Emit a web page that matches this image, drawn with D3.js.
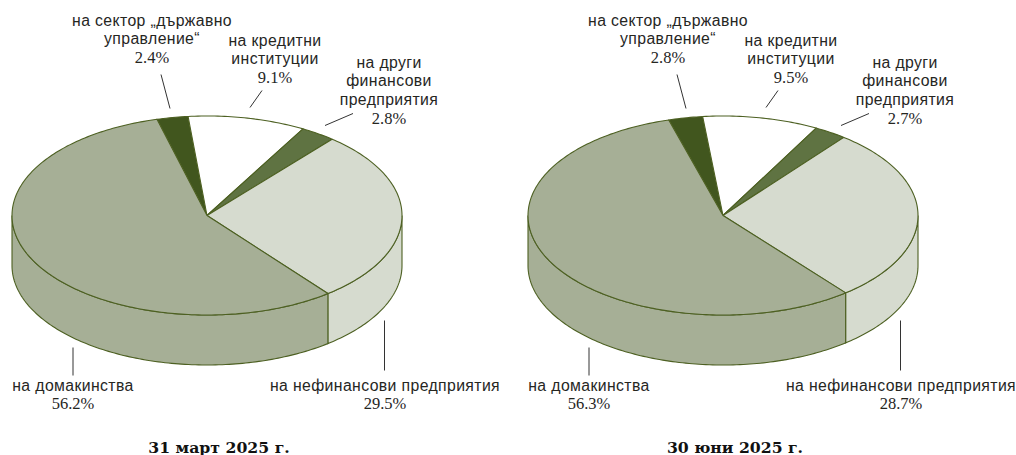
<!DOCTYPE html>
<html>
<head>
<meta charset="utf-8">
<script src="https://cdn.jsdelivr.net/npm/d3@7"></script>
<style>
html, body { margin: 0; padding: 0; background: #fff; }
svg { display: block; }
.lbl { font-family: "Liberation Sans", sans-serif; font-size: 15.8px; letter-spacing: 0.38px; fill: #26261f; text-anchor: middle; }
.pct { font-family: "Liberation Serif", serif; font-size: 16.5px; fill: #26261f; text-anchor: middle; }
.ttl { font-family: "DejaVu Serif", serif; font-weight: bold; font-size: 15.7px; fill: #111; text-anchor: middle; }
</style>
</head>
<body>
<svg id="chart" width="1016" height="455"></svg>
<script>
var categories = ["на сектор „държавно управление“", "на кредитни институции", "на други финансови предприятия", "на нефинансови предприятия", "на домакинства"];
var march = [2.4, 9.1, 2.8, 29.5, 56.2];
var june = [2.8, 9.5, 2.7, 28.7, 56.3];
var titles = ["31 март 2025 г.", "30 юни 2025 г."];

var colors = ["#41561e", "#ffffff", "#5f7342", "#d6dbcf", "#a6af96"];
var strokeColor = "#4d6022";

// label lines and leader lines, relative to the pie centre
var labelLayout = [
	{lines: ["на сектор „държавно", "управление“"], x: -55, y: -189.5, pctY: -152.5, leader: [[-46, -141], [-37, -107]]},
	{lines: ["на кредитни", "институции"], x: 68, y: -169.5, pctY: -133, leader: [[55, -125], [43, -108]]},
	{lines: ["на други", "финансови", "предприятия"], x: 182, y: -147.5, pctY: -92, leader: [[146, -102], [118, -90]]},
	{lines: ["на нефинансови предприятия"], x: 178, y: 175.5, pctY: 193.5, leader: [[177.5, 105], [177.5, 155]]},
	{lines: ["на домакинства"], x: -134, y: 175.5, pctY: 193.5, leader: [[-134, 132], [-134, 160]]}
];

var rx = 195, ry = 99.5, depth = 50;
var cy = 215.5;
var charts = [
	{values: march, title: titles[0], cx: 207, start: -13.8, squeeze: 2.3},
	{values: june, title: titles[1], cx: 723, start: -16, squeeze: 0.3}
];

var svg = d3.select("#chart");
var rad = Math.PI / 180;

var onEllipse = function(a) {
	return [rx * Math.sin(a), ry * -Math.cos(a)];
};
var sampleAngles = function(a0, a1) {
	var n = Math.max(2, Math.ceil(Math.abs(a1 - a0) / (1 * rad)));
	return d3.range(n + 1).map(function(i) { return a0 + (a1 - a0) * i / n; });
};
var line = d3.line();

var drawPie = function(chart) {
	var g = svg.append("g").attr("transform", "translate(" + chart.cx + "," + cy + ")");
	// the tilted pie squeezes the sides a little, so angles get a small correction
	var warp = function(a) {
		return a + chart.squeeze * rad * Math.sin(2 * a);
	};
	var pie = d3.pie().sort(null)
		.startAngle(chart.start * rad)
		.endAngle(chart.start * rad + 2 * Math.PI);
	var arcs = pie(chart.values);

	// side wall, only the front half is visible
	arcs.forEach(function(d, i) {
		var a0 = Math.max(warp(d.startAngle), Math.PI / 2);
		var a1 = Math.min(warp(d.endAngle), Math.PI * 1.5);
		if (a1 <= a0) return;
		var upper = sampleAngles(a0, a1).map(onEllipse);
		var lower = upper.slice().reverse().map(function(p) { return [p[0], p[1] + depth]; });
		g.append("path")
			.attr("d", line(upper.concat(lower)) + "Z")
			.attr("fill", colors[i])
			.attr("stroke", strokeColor)
			.attr("stroke-width", 1.1);
	});

	// top face
	arcs.forEach(function(d, i) {
		var pts = sampleAngles(warp(d.startAngle), warp(d.endAngle)).map(onEllipse);
		g.append("path")
			.attr("d", line([[0, 0]].concat(pts)) + "Z")
			.attr("fill", colors[i])
			.attr("stroke", strokeColor)
			.attr("stroke-width", 1.1)
			.attr("stroke-linejoin", "round");
	});

	// labels
	labelLayout.forEach(function(l, i) {
		g.append("path")
			.attr("d", line(l.leader))
			.attr("fill", "none")
			.attr("stroke", "#333")
			.attr("stroke-width", 1);
		l.lines.forEach(function(t, j) {
			g.append("text").attr("class", "lbl")
				.attr("x", l.x)
				.attr("y", l.y + j * 18.4)
				.text(t);
		});
		g.append("text").attr("class", "pct")
			.attr("x", l.x)
			.attr("y", l.pctY)
			.text(d3.format(".1f")(chart.values[i]) + "%");
	});

	g.append("text").attr("class", "ttl")
		.attr("x", 12)
		.attr("y", 237)
		.text(chart.title);
};

charts.forEach(drawPie);
</script>
</body>
</html>
